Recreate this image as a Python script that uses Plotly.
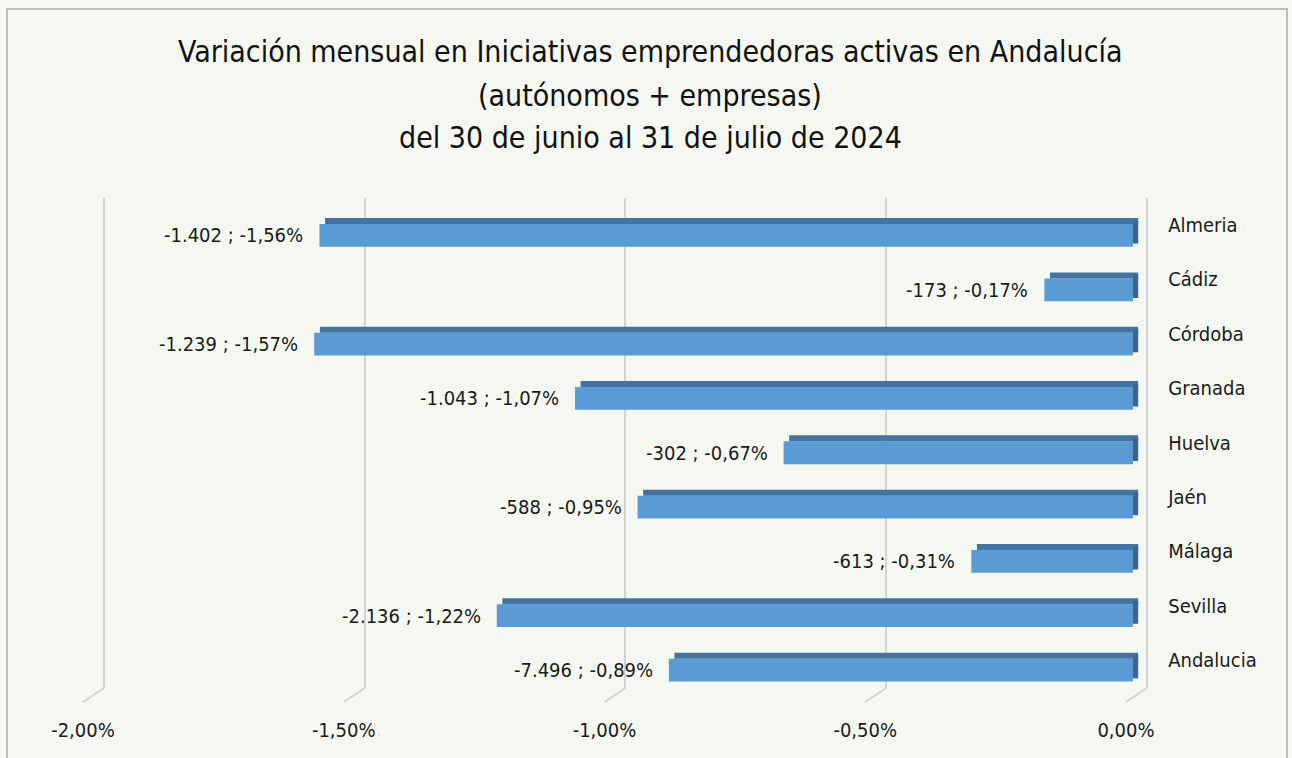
import plotly.graph_objects as go

# ---------------- data ----------------
categories = ["Almeria", "Cádiz", "Córdoba", "Granada", "Huelva", "Jaén", "Málaga", "Sevilla", "Andalucia"]
pct_values = [-1.56, -0.17, -1.57, -1.07, -0.67, -0.95, -0.31, -1.22, -0.89]
abs_values = ["-1.402", "-173", "-1.239", "-1.043", "-302", "-588", "-613", "-2.136", "-7.496"]
pct_labels = ["-1,56%", "-0,17%", "-1,57%", "-1,07%", "-0,67%", "-0,95%", "-0,31%", "-1,22%", "-0,89%"]
tick_vals = [-2.0, -1.5, -1.0, -0.5, 0.0]
tick_text = ["-2,00%", "-1,50%", "-1,00%", "-0,50%", "0,00%"]
title_lines = [
    "Variación mensual en Iniciativas emprendedoras activas en Andalucía",
    "(autónomos + empresas)",
    "del 30 de junio al 31 de julio de 2024",
]

# ---------------- style ----------------
W, H = 1292, 758
FONT = "Liberation Sans Narrow, Arial Narrow, DejaVu Sans Condensed, sans-serif"
BG = "#F4F8F1"
FRONT = "#5B9BD5"
TOP = "#45739F"
SIDE = "#3A6690"
GRID = "#D2D2D2"
PAD = 0.01                      # small range padding so edge gridlines are drawn
XR = [-2.0 - PAD, 0.0 + PAD]
SCALE = 521.5                   # px per 1 %
TITLE_Y = [52, 95, 137]


def px(x):
    return x / W


def py(y):
    return 1 - y / H


def dom(zero_px):
    """x-domain (paper) whose data value 0 falls at pixel zero_px."""
    return [px(zero_px + XR[0] * SCALE), px(zero_px + XR[1] * SCALE)]


GRID_ZERO = 1147     # back wall
BAR_ZERO = 1133      # front of bars
LABEL_ZERO = 1126    # floor front edge (tick labels)

depth = (GRID_ZERO - BAR_ZERO) / 2 / SCALE  # 3D side depth in data units

fig = go.Figure()

# back wall subplot (gridlines + category labels)
fig.add_trace(go.Scatter(x=pct_values, y=categories, mode="none", hoverinfo="skip",
                         showlegend=False, xaxis="x", yaxis="y"))

# bars subplot
fig.add_trace(go.Bar(x=pct_values, y=categories, orientation="h", base=0,
                     width=0.42, offset=-0.21, marker=dict(color=FRONT, line=dict(width=0)),
                     showlegend=False, hoverinfo="skip", xaxis="x2", yaxis="y2"))
fig.add_trace(go.Bar(x=pct_values, y=categories, orientation="h",
                     base=[depth * 0.8 for _ in pct_values],
                     width=0.11, offset=-0.32, marker=dict(color=TOP, line=dict(width=0)),
                     showlegend=False, hoverinfo="skip", xaxis="x2", yaxis="y2"))
fig.add_trace(go.Bar(x=[depth for _ in pct_values], y=categories, orientation="h", base=0,
                     width=0.42, offset=-0.27, marker=dict(color=SIDE, line=dict(width=0)),
                     showlegend=False, hoverinfo="skip", xaxis="x2", yaxis="y2"))

# labels subplot (x tick labels)
fig.add_trace(go.Scatter(x=tick_vals, y=[0 for _ in tick_vals], mode="none", hoverinfo="skip",
                         showlegend=False, xaxis="x3", yaxis="y3"))

annotations = []
for c, v, a, p in zip(categories, pct_values, abs_values, pct_labels):
    annotations.append(dict(x=v, y=c, xref="x2", yref="y2", text=f"{a} ; {p}",
                            showarrow=False, xanchor="right", yanchor="middle", xshift=-14,
                            font=dict(family=FONT, size=20, color="#1A1A1A")))

for line, ty in zip(title_lines, TITLE_Y):
    annotations.append(dict(x=px(650), y=py(ty), xref="paper", yref="paper",
                            text=line, showarrow=False,
                            xanchor="center", yanchor="middle", align="center",
                            font=dict(family=FONT, size=30, color="#111111")))

shapes = [dict(type="rect", xref="paper", yref="paper", x0=px(7), x1=px(1287), y0=-0.02, y1=py(9),
               line=dict(color="#BDBDBD", width=2), fillcolor="rgba(0,0,0,0)", layer="below")]
# floor edges: from back-wall gridline foot to front tick position
for t in tick_vals:
    shapes.append(dict(type="line", xref="paper", yref="paper",
                       x0=px(GRID_ZERO + t * SCALE), x1=px(LABEL_ZERO + t * SCALE),
                       y0=py(688), y1=py(702), line=dict(color=GRID, width=2)))

fig.update_layout(
    template="none",
    width=W, height=H,
    margin=dict(l=0, r=0, t=0, b=0, pad=0),
    paper_bgcolor=BG, plot_bgcolor="rgba(0,0,0,0)",
    barmode="overlay",
    showlegend=False,
    annotations=annotations,
    shapes=shapes,
    xaxis=dict(domain=dom(GRID_ZERO), range=XR, anchor="y", automargin=False,
               tickvals=tick_vals, showticklabels=False, ticks="",
               showgrid=True, gridcolor=GRID, gridwidth=2, zeroline=False, showline=False,
               fixedrange=True),
    yaxis=dict(domain=[py(687.5), py(197.5)], type="category", categoryarray=categories,
               range=[8.5, -0.5], anchor="x", side="right", ticks="", automargin=False,
               showgrid=False, zeroline=False, showline=False, ticklabelstandoff=15,
               tickfont=dict(family=FONT, size=20, color="#1A1A1A"), fixedrange=True),
    xaxis2=dict(domain=dom(BAR_ZERO), range=XR, anchor="y2", automargin=False,
                visible=False, fixedrange=True),
    yaxis2=dict(domain=[py(697.2), py(208.3)], type="category", categoryarray=categories,
                range=[8.5, -0.5], anchor="x2", visible=False, automargin=False, fixedrange=True),
    xaxis3=dict(domain=dom(LABEL_ZERO), range=XR, anchor="y3", automargin=False,
                tickvals=tick_vals, ticktext=tick_text, ticks="", showgrid=False,
                zeroline=False, showline=False, ticklabelstandoff=12,
                tickfont=dict(family=FONT, size=20, color="#1A1A1A"), fixedrange=True),
    yaxis3=dict(domain=[py(704), py(200)], range=[0, 1], anchor="x3", visible=False,
                automargin=False, fixedrange=True),
)

fig.write_html(
    "out.html",
    config={"displayModeBar": False},
    post_script="document.body.style.margin='0';document.body.style.overflow='hidden';",
)
